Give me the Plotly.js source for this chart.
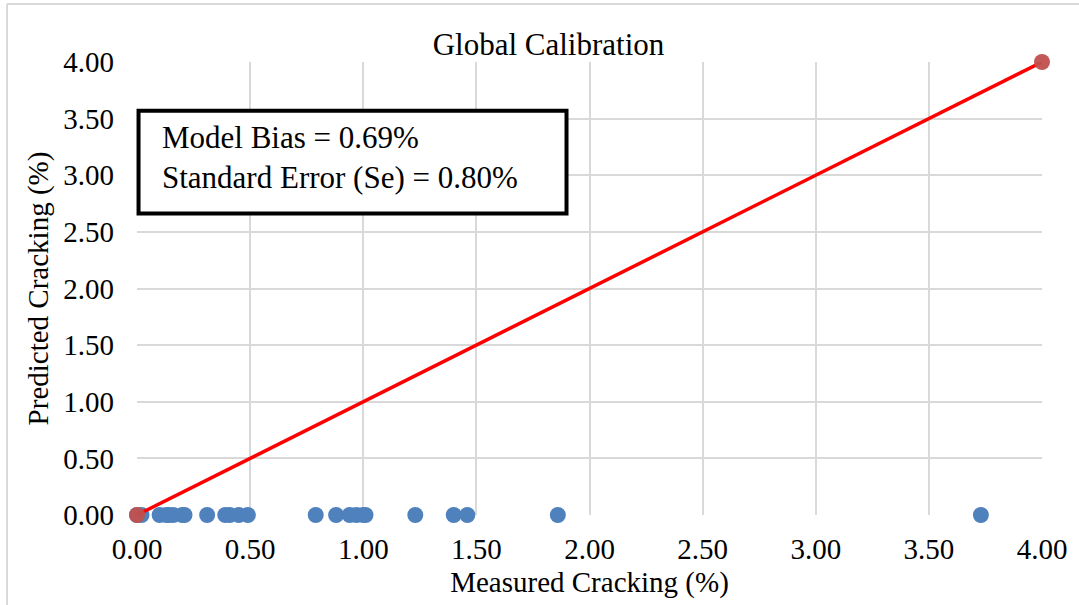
<!DOCTYPE html>
<html><head><meta charset="utf-8">
<script src="https://cdn.plot.ly/plotly-3.0.1.min.js"></script>
<style>body{margin:0;padding:0;background:#fff}#c{width:1079px;height:605px}</style>
</head><body><div id="c"></div>
<script>
const measured = [0.00, 0.02, 0.10, 0.13, 0.14, 0.16, 0.20, 0.21, 0.31, 0.39, 0.41, 0.45, 0.49, 0.79, 0.88, 0.94, 0.97, 1.00, 1.01, 1.23, 1.40, 1.46, 1.86, 3.73];
const predicted = [0.00, 0.00, 0.00, 0.00, 0.00, 0.00, 0.00, 0.00, 0.00, 0.00, 0.00, 0.00, 0.00, 0.00, 0.00, 0.00, 0.00, 0.00, 0.00, 0.00, 0.00, 0.00, 0.00, 0.00];
const lineX = [0, 4];
const lineY = [0, 4];
const tickVals = [0, 0.5, 1, 1.5, 2, 2.5, 3, 3.5, 4];
const tickText = ["0.00","0.50","1.00","1.50","2.00","2.50","3.00","3.50","4.00"];
const font = "Liberation Serif, Times New Roman, serif";

const traces = [
  {x: measured, y: predicted, mode: 'markers', type: 'scatter',
   marker: {color: '#4f81bd', size: 16}, cliponaxis: false, showlegend: false},
  {x: lineX, y: lineY, mode: 'lines+markers', type: 'scatter',
   line: {color: '#ff0000', width: 3.5},
   marker: {color: 'rgba(192,80,77,0.95)', size: 16}, cliponaxis: false, showlegend: false}
];
const layout = {
  width: 1079, height: 605,
  margin: {l: 137, r: 37, t: 62, b: 90},
  paper_bgcolor: '#fff', plot_bgcolor: '#fff',
  font: {family: font, color: '#000', size: 29},
  title: {text: 'Global Calibration', font: {family: font, size: 31, color: '#000'}, xref: 'paper', x: 0.4547, xanchor: 'center', y: 0.927, yanchor: 'middle'},
  xaxis: {range: [0, 4], tickvals: tickVals, ticktext: tickText, showgrid: true, gridcolor: '#d9d9d9', gridwidth: 2,
    zeroline: false, showline: false, ticks: '', ticklabelstandoff: 14, tickfont: {size: 29, family: font},
    title: {text: 'Measured Cracking (%)', font: {size: 29, family: font}, standoff: 7}},
  yaxis: {range: [0, 4], tickvals: tickVals, ticktext: tickText, showgrid: true, gridcolor: '#d9d9d9', gridwidth: 2,
    zeroline: false, showline: false, ticks: '', ticklabelstandoff: 22, tickfont: {size: 29, family: font},
    title: {text: 'Predicted Cracking (%)', font: {size: 29, family: font}, standoff: 6}},
  shapes: [
    {type: 'line', xref: 'paper', yref: 'paper', x0: -0.1436, x1: -0.1436, y0: -0.3, y1: 1.128, line: {color: '#d9d9d9', width: 2}},
    {type: 'line', xref: 'paper', yref: 'paper', x0: -0.1436, x1: 1.2, y0: 1.128, y1: 1.128, line: {color: '#d9d9d9', width: 2}},
    {type: 'rect', xref: 'paper', yref: 'paper', x0: 0.0017, x1: 0.4746, y0: 0.6655, y1: 0.8925, fillcolor: '#fff', line: {color: '#000', width: 4}}
  ],
  annotations: [
    {xref: 'paper', yref: 'paper', x: 0.0254, y: 0.789, xanchor: 'left', yanchor: 'middle',
     text: 'Model Bias = 0.69%<br>Standard Error (Se) = 0.80%', align: 'left', showarrow: false,
     font: {family: font, size: 31, color: '#000'}}
  ]
};
Plotly.newPlot('c', traces, layout, {displayModeBar: false, staticPlot: true});
</script></body></html>
